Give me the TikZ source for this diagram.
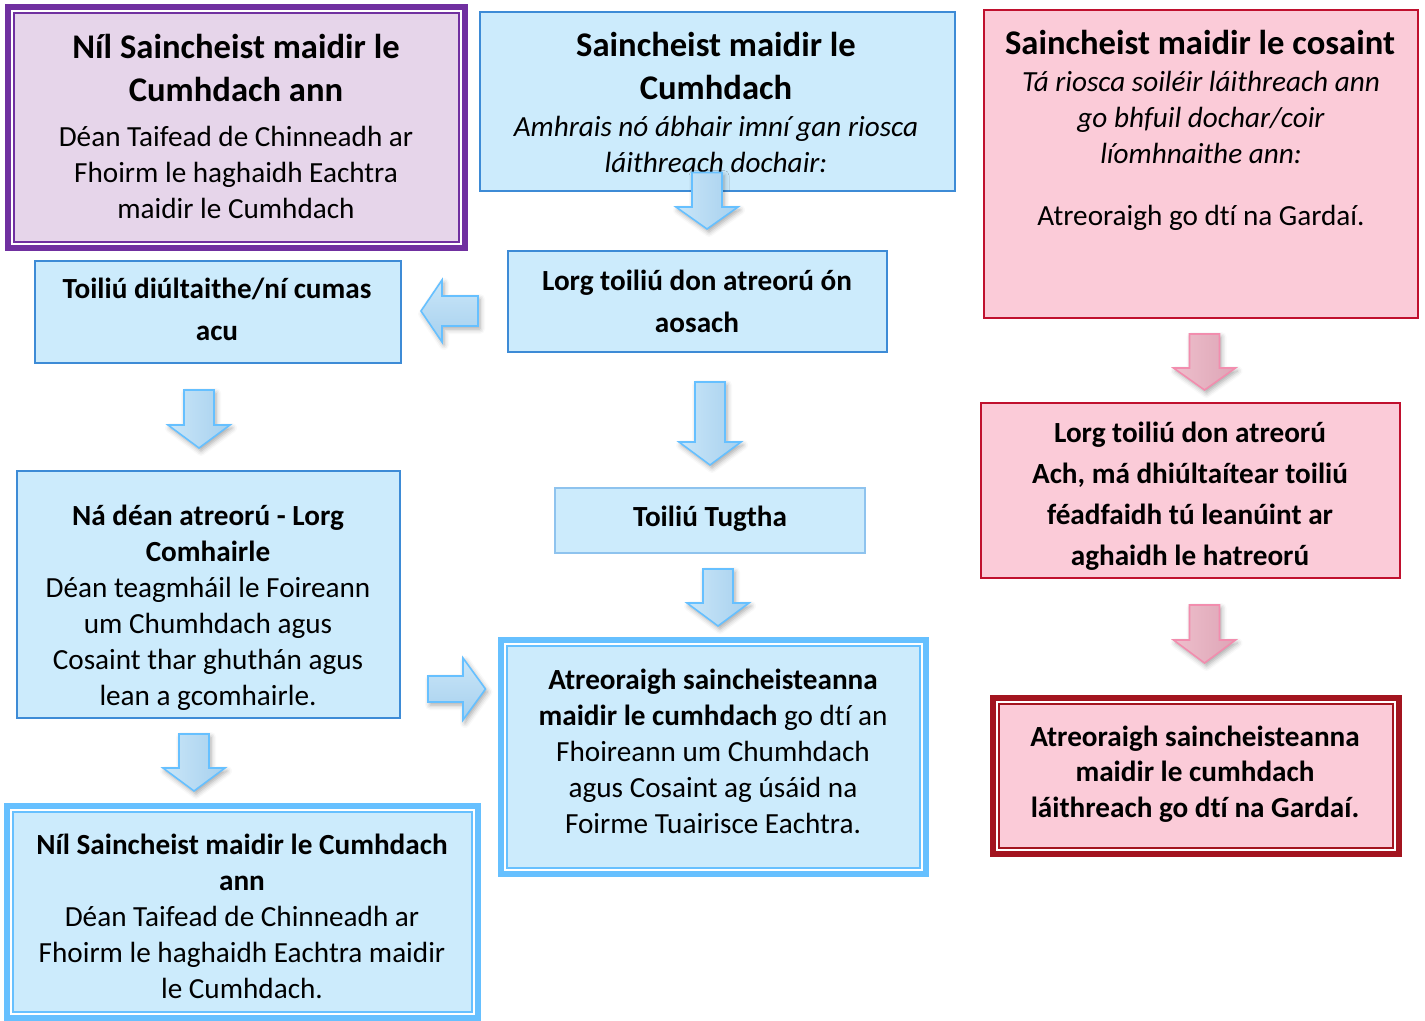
\documentclass[tikz,border=0pt]{standalone}
\usepackage{fontspec}
\setmainfont{Carlito}[Ligatures=NoCommon]
\usetikzlibrary{shadows.blur}
\definecolor{lblue}{HTML}{CCEBFC}
\definecolor{bline}{HTML}{3D8BD6}
\definecolor{bline2}{HTML}{8EC3EE}
\definecolor{sky}{HTML}{66C0FF}
\definecolor{pinkfill}{HTML}{FBCBD8}
\definecolor{redline}{HTML}{C0102E}
\definecolor{purp}{HTML}{7030A0}
\definecolor{purpfill}{HTML}{E6D5EA}
\definecolor{darkred}{HTML}{A3141F}
\definecolor{arrA}{HTML}{CAE6F8}
\definecolor{arrB}{HTML}{A6D0EE}
\definecolor{arrline}{HTML}{66C0FF}
\definecolor{parrA}{HTML}{EEBFCC}
\definecolor{parrB}{HTML}{DDA5B6}
\definecolor{parrline}{HTML}{F28DAE}
\tikzset{
  box/.style={rectangle, inner sep=0pt, outer sep=0pt},
  bluebox/.style={box, fill=lblue, draw=bline, line width=0.75pt},
  lightbluebox/.style={box, fill=lblue, draw=bline2, line width=0.75pt},
  pinkbox/.style={box, fill=pinkfill, draw=redline, line width=0.75pt},
  dblbox/.style={box, line width=3pt},
  body/.style={align=center, inner sep=0pt, font=\fontsize{14.6pt}{18pt}\selectfont},
  itbody/.style={align=center, inner sep=0pt, font=\fontsize{14.6pt}{18pt}\selectfont\itshape},
  bbody/.style={align=center, inner sep=0pt, font=\fontsize{14.6pt}{21pt}\selectfont\bfseries},
  title/.style={align=center, inner sep=0pt, font=\fontsize{17.3pt}{21.5pt}\selectfont\bfseries},
  barrow/.style={draw=arrline, line width=0.8pt, line join=miter,
     blur shadow={shadow xshift=1pt, shadow yshift=-1.5pt, shadow blur radius=2.5pt, shadow opacity=35}},
  parrow/.style={draw=parrline, line width=0.8pt, line join=miter, left color=parrA, right color=parrB,
     blur shadow={shadow xshift=1pt, shadow yshift=-1.5pt, shadow blur radius=2.5pt, shadow opacity=35}},
}
% inner frame of a double-bordered box
\newcommand\innerframe[2]{%
  \draw[white, line width=0.8pt] ([shift={(1.9pt,-1.9pt)}]#1.north west) rectangle ([shift={(-1.9pt,1.9pt)}]#1.south east);
  \draw[#2, line width=1pt] ([shift={(2.8pt,-2.8pt)}]#1.north west) rectangle ([shift={(-2.8pt,2.8pt)}]#1.south east);}
% down block arrow: style, cx, ytop, yhead, ytip
\newcommand\downarr[5]{%
  \path[#1] (#2-15,#3) -- (#2+15,#3) -- (#2+15,#4) -- (#2+31,#4) -- (#2,#5) -- (#2-31,#4) -- (#2-15,#4) -- cycle;}
\begin{document}
\begin{tikzpicture}[x=0.5pt, y=-0.5pt]
\useasboundingbox (0,0) rectangle (1425,1021);
% ---------- boxes ----------
\node[dblbox, draw=purp, fill=purpfill, minimum width=228.5pt, minimum height=120.5pt] (purple) at (236.5,127.5) {};
\innerframe{purple}{purp}
\node[bluebox, minimum width=237.5pt, minimum height=89.5pt] (topmid) at (717.5,101.5) {};
\node[pinkbox, minimum width=217pt, minimum height=154pt] (topright) at (1201,164) {};
\node[bluebox, minimum width=183pt, minimum height=51pt] (refused) at (218,312) {};
\node[bluebox, minimum width=189.5pt, minimum height=50.5pt] (seek) at (697.5,301.5) {};
\node[lightbluebox, minimum width=155pt, minimum height=32.5pt] (given) at (710,520.5) {};
\node[bluebox, minimum width=191.5pt, minimum height=123.5pt] (advice) at (208.5,594.5) {};
\node[dblbox, draw=sky, fill=lblue, minimum width=235.5pt, minimum height=106pt] (noissue) at (242.5,912) {};
\innerframe{noissue}{sky}
\node[dblbox, draw=sky, fill=lblue, minimum width=212.5pt, minimum height=117pt] (refer) at (713.5,757) {};
\innerframe{refer}{sky}
\node[pinkbox, minimum width=209.5pt, minimum height=87.5pt] (seek2) at (1190.5,490.5) {};
\node[dblbox, draw=darkred, fill=pinkfill, minimum width=203pt, minimum height=78pt] (garda) at (1196,776) {};
\innerframe{garda}{darkred}
% ---------- texts ----------
\node[title] (t1) at (236,68) {Níl Saincheist maidir le\\Cumhdach ann};
\node[body] (b1) at (236,172) {Déan Taifead de Chinneadh ar\\Fhoirm le haghaidh Eachtra\\maidir le Cumhdach};
\node[title] (t2) at (716,65.5) {Saincheist maidir le\\Cumhdach};
\node[itbody] (b2) at (716,144) {Amhrais nó ábhair imní gan riosca\\láithreach dochair:};
\node[title] (t3) at (1200,42) {Saincheist maidir le cosaint};
\node[itbody] (b3) at (1201,117) {Tá riosca soiléir láithreach ann\\go bhfuil dochar/coir\\líomhnaithe ann:};
\node[body] (b3b) at (1201,218) {Atreoraigh go dtí na Gardaí.};
\node[bbody] (trefused) at (217,309.5) {Toiliú diúltaithe/ní cumas\\acu};
\node[bbody] (tseek) at (697,301.5) {Lorg toiliú don atreorú ón\\aosach};
\node[bbody] (tgiven) at (710,519) {Toiliú Tugtha};
\node[body] (tadvice) at (208,607.5) {\textbf{Ná déan atreorú - Lorg}\\\textbf{Comhairle}\\Déan teagmháil le Foireann\\um Chumhdach agus\\Cosaint thar ghuthán agus\\lean a gcomhairle.};
\node[body] (tnoissue) at (242,916) {\textbf{Níl Saincheist maidir le Cumhdach}\\\textbf{ann}\\Déan Taifead de Chinneadh ar\\Fhoirm le haghaidh Eachtra maidir\\le Cumhdach.};
\node[body] (trefer) at (713,751) {\textbf{Atreoraigh saincheisteanna}\\\textbf{maidir le cumhdach} go dtí an\\Fhoireann um Chumhdach\\agus Cosaint ag úsáid na\\Foirme Tuairisce Eachtra.};
\node[bbody, font=\fontsize{14.6pt}{20.5pt}\selectfont\bfseries] (tseek2) at (1190,496) {Lorg toiliú don atreorú\\Ach, má dhiúltaítear toiliú\\féadfaidh tú leanúint ar\\aghaidh le hatreorú};
\node[bbody, font=\fontsize{14.6pt}{17.75pt}\selectfont\bfseries] (tgarda) at (1195,774) {Atreoraigh saincheisteanna\\maidir le cumhdach\\láithreach go dtí na Gardaí.};
% ---------- block arrows ----------
\downarr{barrow, left color=arrA, right color=arrB}{707}{172.5}{207}{229}
\downarr{barrow, left color=arrA, right color=arrB}{199}{390}{425}{448}
\downarr{barrow, left color=arrA, right color=arrB}{710}{382}{442}{465}
\downarr{barrow, left color=arrA, right color=arrB}{718}{569}{603}{626}
\downarr{barrow, left color=arrA, right color=arrB}{194}{734}{768}{791}
\downarr{parrow}{1204.5}{334}{368}{390}
\downarr{parrow}{1204.5}{605}{640}{663}
% left arrow
\path[barrow, top color=arrA, bottom color=arrB] (478,296) -- (478,326) -- (442,326) -- (442,342) -- (421,311) -- (442,280) -- (442,296) -- cycle;
% right arrow
\path[barrow, top color=arrA, bottom color=arrB] (428,676) -- (428,702) -- (463,702) -- (463,720) -- (485.5,689) -- (463,658) -- (463,676) -- cycle;
\end{tikzpicture}
\end{document}
